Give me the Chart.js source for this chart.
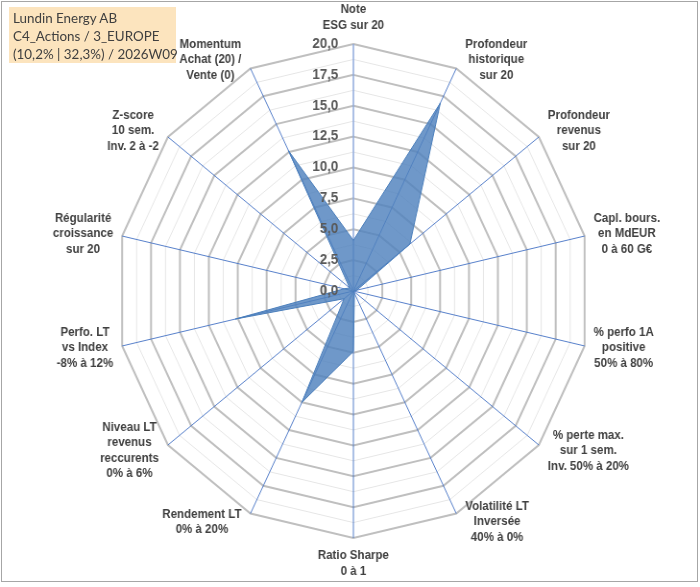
<!DOCTYPE html>
<html><head><meta charset="utf-8">
<script src="https://cdn.jsdelivr.net/npm/chart.js@4"></script>
<style>
html,body{margin:0;padding:0;background:#fff;}
#wrap{position:relative;width:700px;height:587px;overflow:hidden;background:#fff;}
#c{position:absolute;left:0;top:0;transform-origin:0 0;}
#frame{position:absolute;left:1px;top:1px;width:697px;height:581px;border:1px solid #A6A6A6;box-sizing:border-box;pointer-events:none;}
#title{position:absolute;left:9px;top:7px;width:167px;height:56px;background:#FCE4BE;font-family:Lato,'Open Sans',sans-serif;font-size:13.4px;line-height:18px;color:#404040;padding:2px 0 0 4px;box-sizing:border-box;white-space:nowrap;}
</style></head>
<body>
<div id="wrap">
<canvas id="c" width="729" height="587"></canvas>
<div id="frame"></div>
<div id="title"></div>
</div>
<script>
const titleLines = ['Lundin Energy AB', 'C4_Actions / 3_EUROPE', '(10,2% | 32,3%) / 2026W09'];
const categories = [
  ['Note','ESG sur 20'],
  ['Profondeur','historique','sur 20'],
  ['Profondeur','revenus','sur 20'],
  ['Capl. bours.','en MdEUR','0 à 60 G€'],
  ['% perfo 1A','positive','50% à 80%'],
  ['% perte max.','sur 1 sem.','Inv. 50% à 20%'],
  ['Volatilité LT','Inversée','40% à 0%'],
  ['Ratio Sharpe','0 à 1'],
  ['Rendement LT','0% à 20%'],
  ['Niveau LT','revenus','reccurents','0% à 6%'],
  ['Perfo. LT','vs Index','-8% à 12%'],
  ['Régularité','croissance','sur 20'],
  ['Z-score','10 sem.','Inv. 2 à -2'],
  ['Momentum','Achat (20) /','Vente (0)']
];
const scores = [4.1, 16.9, 6.1, 0.3, 0, 0, 0.2, 4.9, 10.0, 1.0, 10.2, 0.8, 0.4, 12.6];
const tickValues = [0, 2.5, 5, 7.5, 10, 12.5, 15, 17.5, 20];
const tickLabels = ['0,0','2,5','5,0','7,5','10,0','12,5','15,0','17,5','20,0'];

document.getElementById('title').innerHTML = titleLines.map(t => '<div>' + t.replace(/&/g,'&amp;').replace(/</g,'&lt;') + '</div>').join('');

const CW = 729;
const SX = 700 / CW;
const canvas = document.getElementById('c');
canvas.style.transform = 'scaleX(' + SX + ')';

const labelPlugin = {
  id: 'radarLabels',
  afterDatasetsDraw(chart) {
    const s = chart.scales.r;
    const ctx = chart.ctx;
    ctx.save();
    ctx.font = 'bold 12px "Liberation Sans", Arial, sans-serif';
    ctx.fillStyle = '#404040';
    ctx.textAlign = 'center';
    ctx.textBaseline = 'middle';
    const n = chart.data.labels.length;
    const lh = 15.5, gap = 9 / SX;
    chart.data.labels.forEach((lines, i) => {
      const p = s.getPointPosition(i, s.drawingArea);
      const a = i * 2 * Math.PI / n;
      const sn = Math.sin(a), cs = Math.cos(a);
      const w = Math.max(...lines.map(l => ctx.measureText(l).width));
      const H = lines.length * lh;
      let cx, cy;
      if (Math.abs(sn) < 0.01) {
        cx = p.x;
        cy = cs > 0 ? p.y - 11 - H / 2 : p.y + 10 + H / 2;
      } else {
        cx = sn > 0 ? p.x + gap + w / 2 : p.x - gap - w / 2;
        cy = p.y - 9.5 * cs;
      }
      lines.forEach((l, k) => ctx.fillText(l, cx, cy - H / 2 + lh / 2 + k * lh));
    });
    ctx.font = 'bold 14px "Liberation Sans", Arial, sans-serif';
    ctx.fillStyle = '#595959';
    ctx.textAlign = 'right';
    tickValues.forEach((v, k) => {
      const d = s.getDistanceFromCenterForValue(v);
      ctx.fillText(tickLabels[k], s.xCenter - 15 / SX, s.yCenter - d);
    });
    ctx.restore();
  }
};

new Chart(canvas, {
  type: 'radar',
  data: {
    labels: categories,
    datasets: [{
      data: scores,
      backgroundColor: 'rgba(79,129,189,0.82)',
      borderColor: '#4A7EBB',
      borderWidth: 1,
      pointRadius: 0,
      pointHoverRadius: 0,
      fill: true
    }]
  },
  options: {
    responsive: false,
    devicePixelRatio: 1,
    animation: false,
    layout: { padding: { left: 7, right: 0, top: 44, bottom: 49 } },
    plugins: { legend: { display: false }, tooltip: { enabled: false }, title: { display: false } },
    scales: {
      r: {
        min: 0,
        max: 20,
        ticks: { display: false, stepSize: 1.25 },
        grid: {
          circular: false,
          color: c => (c.index % 2 === 0 ? '#BFBFBF' : '#E6E6E6'),
          lineWidth: c => (c.index % 2 === 0 ? 2 : 1)
        },
        angleLines: {
          color: c => (c.index === 0 ? '#8FAADC' : '#4472C4'),
          lineWidth: c => (c.index === 0 ? 1.5 : 0.9)
        },
        pointLabels: { display: false }
      }
    }
  },
  plugins: [labelPlugin]
});
</script>
</body></html>
